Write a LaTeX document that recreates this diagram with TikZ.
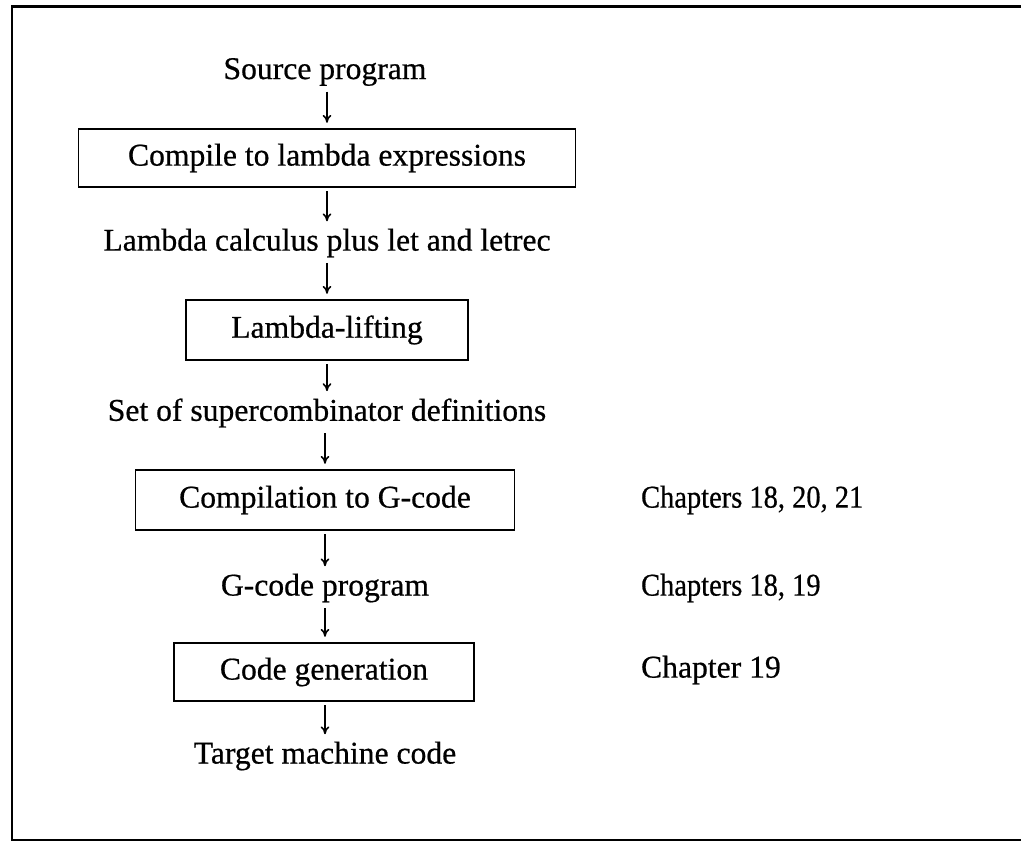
\documentclass[tikz,border=0pt]{standalone}
\usepackage{fontspec}
\setmainfont{Liberation Serif}[FakeBold=0.6]
\usepackage{graphicx}
\usepackage{tikz}
\usetikzlibrary{arrows.meta, positioning}
\newcommand{\squeezed}[1]{\scalebox{0.9}[1]{#1}}

\begin{document}
\begin{tikzpicture}[>={To[length=4.5pt,width=5pt]}, x=0.2mm, y=-0.2mm,
  font=\fontsize{18}{22}\selectfont,
  stage/.style={draw, line width=1.1pt, minimum height=1.16cm, inner sep=0pt},
  label/.style={inner sep=1pt},
  flow/.style={->, line width=0.9pt, shorten <=2pt, shorten >=3pt}]
  \useasboundingbox (0,0) rectangle (1021,843);
  % outer frame, open on the right
  \draw[line width=1.7pt] (1040,7) -- (12,7) -- (12,840) -- (1040,840);
  % the chain of stages
  \node[label] (src) at (325,72) {Source program};
  \node[stage, minimum width=9.94cm] (lamexp) at (327,158) {Compile to lambda expressions};
  \node[label] (lamcalc) at (327,243) {Lambda calculus plus let and letrec};
  \node[stage, minimum width=5.64cm, minimum height=1.2cm] (lift) at (327,330) {Lambda-lifting};
  \node[label] (scdefs) at (327,413) {Set of supercombinator definitions};
  \node[stage, minimum width=7.58cm, minimum height=1.2cm] (gcomp) at (325,500) {Compilation to G-code};
  \node[label] (gprog) at (325,588) {G-code program};
  \node[stage, minimum width=6.0cm] (codegen) at (324,672) {Code generation};
  \node[label] (target) at (325,756) {Target machine code};
  % chapter references
  \node[label, anchor=west] (chgc) at (639,500) {\squeezed{Chapters 18, 20, 21}};
  \node[label, anchor=west] (chgp) at (639,588) {\squeezed{Chapters 18, 19}};
  \node[label, anchor=west] (chcg) at (639,670) {Chapter 19};
  % arrows, kept vertical
  \draw[flow] (src.south -| lamexp) -- (lamexp);
  \draw[flow] (lamexp) -- (lamcalc);
  \draw[flow] (lamcalc) -- (lift);
  \draw[flow] (lift) -- (scdefs);
  \draw[flow] (scdefs.south -| gcomp) -- (gcomp);
  \draw[flow] (gcomp) -- (gprog);
  \draw[flow] (gprog) -- (gprog |- codegen.north);
  \draw[flow] (gprog |- codegen.south) -- (gprog |- target.north);
\end{tikzpicture}
\end{document}
